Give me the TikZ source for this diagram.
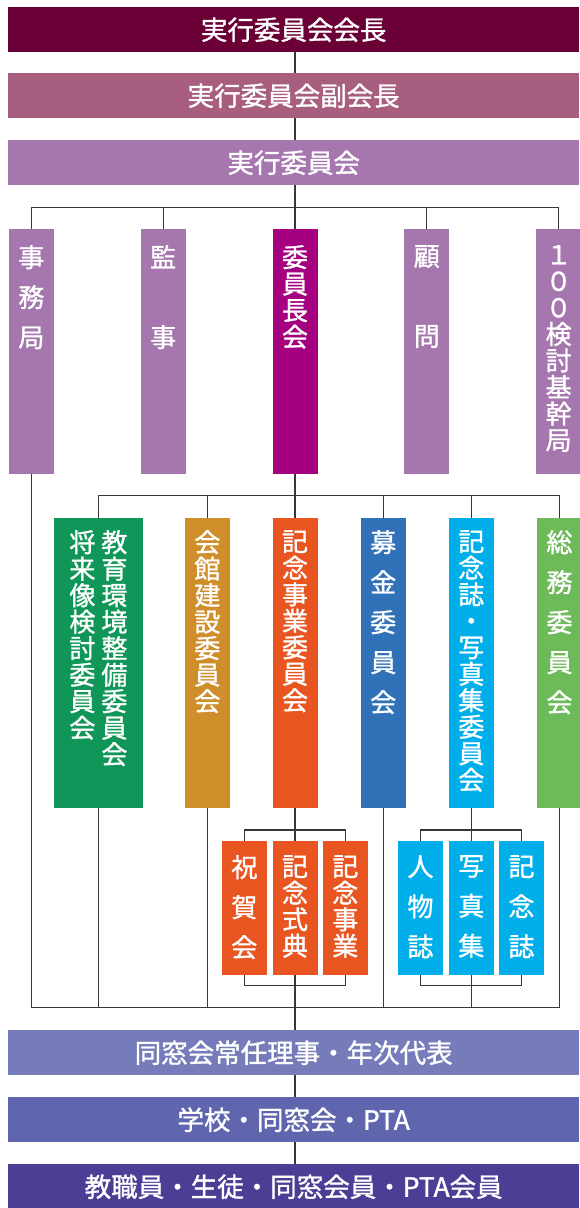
\documentclass[tikz,border=0pt]{standalone}
\usepackage{fontspec}
\setmainfont{Noto Sans CJK JP}[FakeBold=1.2]
\usetikzlibrary{positioning}
\definecolor{chairred}{HTML}{6A0035}
\definecolor{vicerose}{HTML}{A85E7E}
\definecolor{execlilac}{HTML}{A577AE}
\definecolor{chairmagenta}{HTML}{A4007F}
\definecolor{edugreen}{HTML}{0F9658}
\definecolor{hallgold}{HTML}{CF8E2A}
\definecolor{eventorange}{HTML}{E95520}
\definecolor{fundblue}{HTML}{3171B8}
\definecolor{bookcyan}{HTML}{00AFEA}
\definecolor{genlgreen}{HTML}{6DBA5A}
\definecolor{alumniblue}{HTML}{767BBA}
\definecolor{schoolblue}{HTML}{5F66AE}
\definecolor{memberindigo}{HTML}{4A3F95}
\definecolor{linegray}{HTML}{3A3636}

\begin{document}
\begin{tikzpicture}
  [ x=1pt, y=-1pt,
    topbar/.style={rectangle, anchor=north west, inner sep=0pt, minimum width=571pt, minimum height=45pt, text=white, font=\fontsize{26.5}{26.5}\selectfont},
    colbox/.style={rectangle, anchor=north, inner sep=0pt, minimum width=45pt, minimum height=245pt},
    wcolbox/.style={rectangle, anchor=north, inner sep=0pt, minimum width=45pt, minimum height=290pt},
    subbox/.style={rectangle, anchor=north, inner sep=0pt, minimum width=45pt, minimum height=134pt},
    vtight/.style={anchor=north, inner sep=0pt, align=center, text=white, font=\fontsize{26}{26.5}\selectfont},
    vwide/.style={anchor=north, inner sep=0pt, align=center, text=white, font=\fontsize{26}{40}\selectfont},
    line1/.style={-, line width=1.2pt, linegray}
  ]
  \useasboundingbox (0,0) rectangle (579,1208);

  \node[topbar, fill=chairred] (chair) at (8,7) {実行委員会会長};
  \node[topbar, fill=vicerose] (vicechair) at (8,73) {実行委員会副会長};
  \node[topbar, fill=execlilac] (execcomm) at (8,140) {実行委員会};

  \node[colbox, fill=execlilac] (jimu) at (31.4,229) {};
  \node[colbox, fill=execlilac] (kansa) at (163.2,229) {};
  \node[colbox, fill=chairmagenta] (iinchou) at (295,229) {};
  \node[colbox, fill=execlilac] (komon) at (426.8,229) {};
  \node[colbox, fill=execlilac] (kikan) at (558.6,229) {};

  \node[vwide, below=16pt of jimu.north] (jimutext) {事\\務\\局};
  \node[vwide, below=16pt of kansa.north] (kansatext) {監\\[40pt]事};
  \node[vtight, below=16pt of iinchou.north] (iinchoutext) {委\\員\\長\\会};
  \node[vwide, below=16pt of komon.north] (komontext) {顧\\[40pt]問};
  \node[vtight, below=16pt of kikan.north] (kikantext) {１\\０\\０\\検\\討\\基\\幹\\局};

  \node[wcolbox, minimum width=89pt, fill=edugreen] (kyoiku) at (98.4,518) {};
  \node[wcolbox, fill=hallgold] (kaikan) at (207.4,518) {};
  \node[wcolbox, fill=eventorange] (kinen) at (295,518) {};
  \node[wcolbox, fill=fundblue] (bokin) at (383.2,518) {};
  \node[wcolbox, fill=bookcyan] (kinenshi) at (471.3,518) {};
  \node[wcolbox, fill=genlgreen] (soumu) at (559.5,518) {};

  \node[vtight, below=12pt of kyoiku.north, xshift=16pt] (kyoikutext) {教\\育\\環\\境\\整\\備\\委\\員\\会};
  \node[vtight, below=12pt of kyoiku.north, xshift=-16pt] (shoraitext) {将\\来\\像\\検\\討\\委\\員\\会};
  \node[vtight, below=12pt of kaikan.north] (kaikantext) {会\\館\\建\\設\\委\\員\\会};
  \node[vtight, below=12pt of kinen.north] (kinentext) {記\\念\\事\\業\\委\\員\\会};
  \node[vwide, below=12pt of bokin.north] (bokintext) {募\\金\\委\\員\\会};
  \node[vtight, below=12pt of kinenshi.north] (kinenshitext) {記\\念\\誌\\・\\写\\真\\集\\委\\員\\会};
  \node[vwide, below=12pt of soumu.north] (soumutext) {総\\務\\委\\員\\会};

  \node[subbox, fill=eventorange] (shukuga) at (244.3,841) {};
  \node[subbox, fill=eventorange] (shikiten) at (295,841) {};
  \node[subbox, fill=eventorange] (jigyo) at (345.3,841) {};
  \node[subbox, fill=bookcyan] (jinbutsu) at (420.5,841) {};
  \node[subbox, fill=bookcyan] (shashin) at (471.3,841) {};
  \node[subbox, fill=bookcyan] (kinenzasshi) at (521.5,841) {};

  \node[vwide, below=14pt of shukuga.north] (shukugatext) {祝\\賀\\会};
  \node[vtight, below=14pt of shikiten.north] (shikitentext) {記\\念\\式\\典};
  \node[vtight, below=14pt of jigyo.north] (jigyotext) {記\\念\\事\\業};
  \node[vwide, below=14pt of jinbutsu.north] (jinbutsutext) {人\\物\\誌};
  \node[vwide, below=14pt of shashin.north] (shashintext) {写\\真\\集};
  \node[vwide, below=14pt of kinenzasshi.north] (kinenzasshitext) {記\\念\\誌};

  \node[topbar, fill=alumniblue] (dousou) at (8,1030) {同窓会常任理事・年次代表};
  \node[topbar, fill=schoolblue] (gakkou) at (8,1097) {学校・同窓会・PTA};
  \node[topbar, fill=memberindigo] (members) at (8,1164) {教職員・生徒・同窓会員・PTA会員};

  \coordinate (bus1) at (295,207.7);
  \coordinate (bus2) at (295,495.7);
  \coordinate (kinentop) at (295,830);
  \coordinate (kinenbot) at (295,985.7);
  \coordinate (collect) at (295,1007.7);

  \draw [line1] (chair.south -| bus1) -- (vicechair.north -| bus1);
  \draw [line1] (vicechair.south -| bus1) -- (execcomm.north -| bus1);
  \draw [line1] (execcomm.south -| bus1) -- (iinchou.north);
  \draw [line1] (jimu.north) -- (jimu.north |- bus1) -- (kikan.north |- bus1) -- (kikan.north);
  \draw [line1] (kansa.north) -- (kansa.north |- bus1);
  \draw [line1] (komon.north) -- (komon.north |- bus1);

  \draw [line1] (iinchou.south) -- (kinen.north);
  \draw [line1] (kyoiku.north) -- (kyoiku.north |- bus2) -- (soumu.north |- bus2) -- (soumu.north);
  \draw [line1] (kaikan.north) -- (kaikan.north |- bus2);
  \draw [line1] (bokin.north) -- (bokin.north |- bus2);
  \draw [line1] (kinenshi.north) -- (kinenshi.north |- bus2);

  \draw [line1] (kinen.south) -- (shikiten.north);
  \draw [line1] (shukuga.north) -- (shukuga.north |- kinentop) -- (jigyo.north |- kinentop) -- (jigyo.north);
  \draw [line1] (shukuga.south) -- (shukuga.south |- kinenbot) -- (jigyo.south |- kinenbot) -- (jigyo.south);
  \draw [line1] (kinenshi.south) -- (shashin.north);
  \draw [line1] (jinbutsu.north) -- (jinbutsu.north |- kinentop) -- (kinenzasshi.north |- kinentop) -- (kinenzasshi.north);
  \draw [line1] (jinbutsu.south) -- (jinbutsu.south |- kinenbot) -- (kinenzasshi.south |- kinenbot) -- (kinenzasshi.south);

  \draw [line1] (jimu.south) -- (jimu.south |- collect) -- (soumu.south |- collect) -- (soumu.south);
  \draw [line1] (kyoiku.south) -- (kyoiku.south |- collect);
  \draw [line1] (kaikan.south) -- (kaikan.south |- collect);
  \draw [line1] (bokin.south) -- (bokin.south |- collect);
  \draw [line1] (shashin.south) -- (shashin.south |- collect);
  \draw [line1] (shikiten.south) -- (shikiten.south |- dousou.north);

  \draw [line1] (dousou.south -| bus1) -- (gakkou.north -| bus1);
  \draw [line1] (gakkou.south -| bus1) -- (members.north -| bus1);
\end{tikzpicture}
\end{document}
